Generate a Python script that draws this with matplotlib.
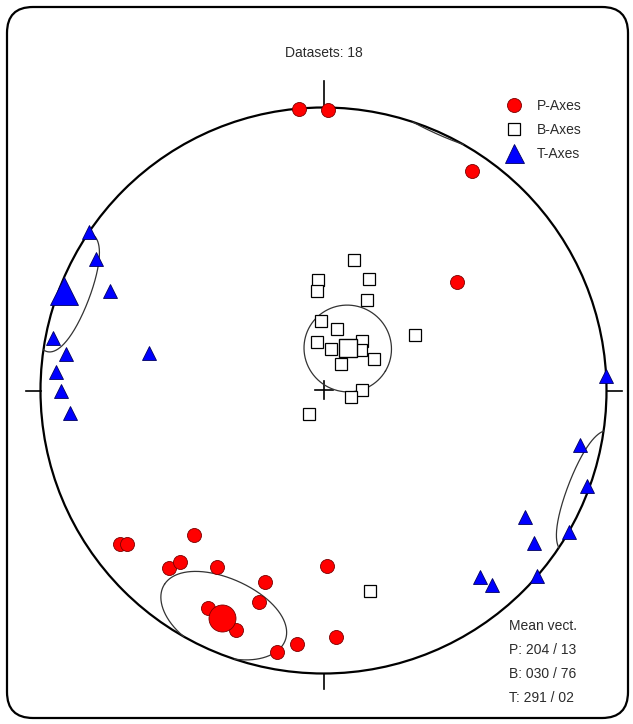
import numpy as np
import matplotlib
matplotlib.use("Agg")
import matplotlib.pyplot as plt
from matplotlib.patches import FancyBboxPatch, Circle

# ---- data: axes as trend / plunge (degrees), lower hemisphere ----
p_trend = [355, 1, 34, 51, 233, 232, 222, 221, 220, 211, 197, 197, 208, 200, 186, 190, 179, 177]
p_plunge = [0, 1, 7, 39, 11, 13, 32, 18, 22, 28, 30, 23, 14, 11, 11, 7, 38, 14]

b_trend = [13, 22, 357, 356, 26, 59, 358, 12, 352, 10, 38, 43, 34, 58, 89, 103, 212, 167]
b_plunge = [51, 55, 58, 61, 61, 59, 70, 72, 76, 78, 72, 74, 81, 73, 79, 82, 82, 28]

t_trend = [304, 300, 295, 281, 278, 274, 270, 265, 282, 87, 102, 110, 120, 122, 126, 131, 140, 139]
t_plunge = [0, 8, 18, 3, 9, 6, 8, 11, 37, 0, 8, 1, 0, 17, 9, 0, 15, 10]

mean_names = ["P", "B", "T"]
mean_trend = [204, 30, 291]
mean_plunge = [13, 76, 2]
# confidence cone half-angles (tangential, radial), degrees
cone_tangential = [15.0, 12.5, 13.0]
cone_radial = [14.0, 12.5, 10.0]

n_datasets = 18
legend_labels = ["P-Axes", "B-Axes", "T-Axes"]

# ---- figure in pixel units ----
W, H = 633, 724
CX, CY, R = 323.5, 390.5, 283.0

fig = plt.figure(figsize=(W / 100, H / 100), dpi=100)
ax = fig.add_axes([0, 0, 1, 1])
ax.set_xlim(0, W)
ax.set_ylim(H, 0)
ax.axis("off")

FONT = ["Liberation Sans Narrow", "Liberation Sans", "DejaVu Sans"]
TXT = "#2b2b2b"


def to_vec(trend, plunge):
    tr = np.radians(np.asarray(trend, dtype=float))
    pl = np.radians(np.asarray(plunge, dtype=float))
    return np.array([np.cos(pl) * np.sin(tr), np.cos(pl) * np.cos(tr), np.sin(pl)])


def project(v):
    """Schmidt (equal-area) lower-hemisphere projection into pixel space."""
    x, y, z = v
    s = 1.0 / np.sqrt(1.0 + z)
    return CX + R * x * s, CY - R * y * s


def project_tp(trend, plunge):
    return project(to_vec(trend, plunge))


def cone_segments(trend, plunge, a, b, n=1441):
    m = to_vec(trend, plunge)
    t0, p0 = np.radians(trend), np.radians(plunge)
    u = np.array([np.cos(t0), -np.sin(t0), 0.0])
    w = np.array([-np.sin(p0) * np.sin(t0), -np.sin(p0) * np.cos(t0), np.cos(p0)])
    t = np.linspace(0, 2 * np.pi, n)
    v = (m[:, None] + np.tan(np.radians(a)) * np.cos(t) * u[:, None]
         + np.tan(np.radians(b)) * np.sin(t) * w[:, None])
    v /= np.linalg.norm(v, axis=0)
    up = v[2] < 0
    v[:, up] *= -1
    cuts = np.flatnonzero(np.diff(up.astype(int)) != 0) + 1
    return [project(v[:, c]) for c in np.split(np.arange(n), cuts) if len(c) > 1]


# frame
frame = FancyBboxPatch((7, 7), 621, 711, boxstyle="round,pad=0,rounding_size=26",
                       fill=False, lw=1.6, ec="black", zorder=1)
ax.add_patch(frame)

# primitive circle, ticks and centre cross
ax.add_patch(Circle((CX, CY), R, fill=False, lw=1.6, ec="black", zorder=2))
ax.plot([CX, CX], [CY - R - 27, CY - R], color="black", lw=1.2, zorder=2)
ax.plot([CX, CX], [CY + R, CY + R + 15], color="black", lw=1.2, zorder=2)
ax.plot([CX - R - 15, CX - R], [CY, CY], color="black", lw=1.2, zorder=2)
ax.plot([CX + R, CX + R + 15], [CY, CY], color="black", lw=1.2, zorder=2)
ax.plot([CX - 9, CX + 9], [CY - 1, CY - 1], color="black", lw=1.2, zorder=2)
ax.plot([CX, CX], [CY - 10, CY + 8], color="black", lw=1.2, zorder=2)

# confidence cones
for tr, pl, a, b in zip(mean_trend, mean_plunge, cone_tangential, cone_radial):
    for xs, ys in cone_segments(tr, pl, a, b):
        ax.plot(xs, ys, color="#333333", lw=0.9, zorder=2.5)

PX = 0.72  # points per pixel

# axes
bx, by = project_tp(b_trend, b_plunge)
ax.plot(bx, by, "s", ms=12.5 * PX, mfc="white", mec="black", mew=0.9, ls="none", zorder=3)
px, py = project_tp(p_trend, p_plunge)
ax.plot(px, py, "o", ms=14 * PX, mfc="#ff0000", mec="#7a0000", mew=0.6, ls="none", zorder=4)
tx, ty = project_tp(t_trend, t_plunge)
ax.plot(tx, ty, "^", ms=14 * PX, mfc="#0000ff", mec="#000060", mew=0.6, ls="none", zorder=4)

# mean vectors
styles = {
    "P": dict(marker="o", ms=27 * PX, mfc="#ff0000", mec="#7a0000", mew=0.6),
    "B": dict(marker="s", ms=18 * PX, mfc="white", mec="black", mew=1.0),
    "T": dict(marker="^", ms=28 * PX, mfc="#0000ff", mec="#000060", mew=0.6),
}
for name, tr, pl in zip(mean_names, mean_trend, mean_plunge):
    mx, my = project_tp(tr, pl)
    ax.plot([mx], [my], ls="none", zorder=5, **styles[name])

# title
ax.text(CX, 53, f"Datasets: {n_datasets}", ha="center", va="center",
        fontsize=10, family=FONT, color=TXT)

# legend
leg_y = [105, 129, 153]
leg_style = [
    dict(marker="o", ms=14 * PX, mfc="#ff0000", mec="#7a0000", mew=0.6),
    dict(marker="s", ms=12.5 * PX, mfc="white", mec="black", mew=0.9),
    dict(marker="^", ms=19 * PX, mfc="#0000ff", mec="#000060", mew=0.6),
]
for y, lab, st in zip(leg_y, legend_labels, leg_style):
    ax.plot([514], [y], ls="none", zorder=5, **st)
    ax.text(537, y + 1, lab, ha="left", va="center", fontsize=10, family=FONT, color=TXT)

# mean vector summary
lines = ["Mean vect."] + [f"{n}: {t:03d} / {p:02d}" for n, t, p in zip(mean_names, mean_trend, mean_plunge)]
for i, s in enumerate(lines):
    ax.text(509, 626 + i * 24, s, ha="left", va="center", fontsize=10, family=FONT, color=TXT)

fig.savefig("out.png", dpi=100)
